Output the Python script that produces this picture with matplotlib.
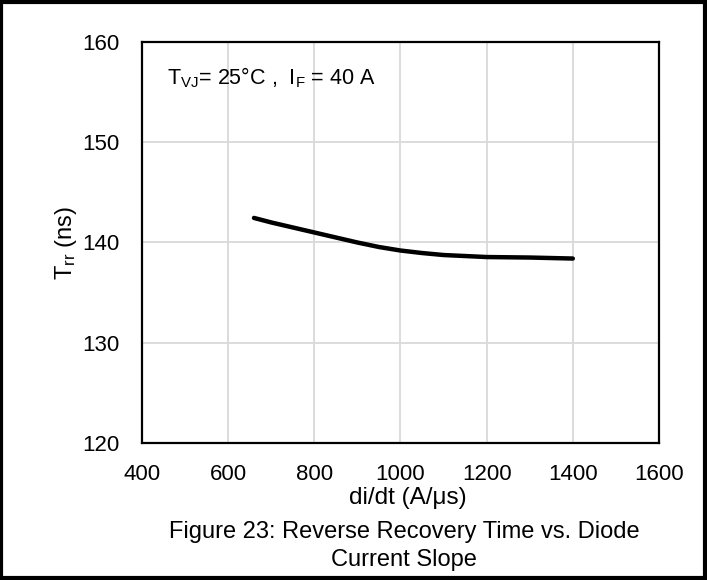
import matplotlib
matplotlib.use("Agg")
import matplotlib.pyplot as plt
from matplotlib.patches import Rectangle

plt.rcParams['font.family'] = ['Liberation Sans', 'DejaVu Sans']
plt.rcParams['mathtext.fontset'] = 'custom'
plt.rcParams['mathtext.rm'] = 'Liberation Sans'
plt.rcParams['mathtext.it'] = 'Liberation Sans'

# di/dt (A/us) vs reverse recovery time (ns)
didt = [660, 700, 750, 800, 850, 900, 950, 1000, 1050, 1100, 1200, 1300, 1400]
trr = [142.45, 142.0, 141.5, 141.0, 140.5, 140.0, 139.55, 139.2, 138.95, 138.75, 138.55, 138.5, 138.4]

xticks = [400, 600, 800, 1000, 1200, 1400, 1600]
yticks = [120, 130, 140, 150, 160]

fig = plt.figure(figsize=(7.07, 5.8), dpi=100)
ax = fig.add_axes([0.2008, 0.2362, 0.7313, 0.6914])

ax.plot(didt, trr, color='black', lw=3.2, solid_capstyle='round', solid_joinstyle='round', zorder=3)

ax.set_xlim(400, 1600)
ax.set_ylim(120, 160)
ax.set_xticks(xticks)
ax.set_yticks(yticks)
ax.tick_params(length=0, labelsize=16, colors='black')
ax.tick_params(axis='x', pad=15)
ax.tick_params(axis='y', pad=16)
ax.grid(True, color='#d9d9d9', lw=1.3)
ax.set_axisbelow(True)
for s in ax.spines.values():
    s.set_linewidth(1.6)
    s.set_color('black')

ax.set_xlabel('di/dt (A/μs)', fontsize=17.5)
ax.xaxis.set_label_coords(0.515, -0.11)
ax.set_ylabel(r'T$_{\mathrm{rr}}$ (ns)', fontsize=17)
ax.yaxis.set_label_coords(-0.122, 0.5)

ax.text(0.048, 0.912, r'T$_{\mathrm{VJ}}$= 25°C ,  I$_{\mathrm{F}}$ = 40 A',
        transform=ax.transAxes, fontsize=15.5, va='center', ha='left')

fig.text(0.572, 0.083, 'Figure 23: Reverse Recovery Time vs. Diode', fontsize=17, ha='center', va='center')
fig.text(0.572, 0.035, 'Current Slope', fontsize=17, ha='center', va='center')

fig.patches.append(Rectangle((0.002, 0.003), 0.995, 0.994, transform=fig.transFigure,
                             fill=False, edgecolor='black', lw=3))

fig.savefig('out.png', dpi=100)
